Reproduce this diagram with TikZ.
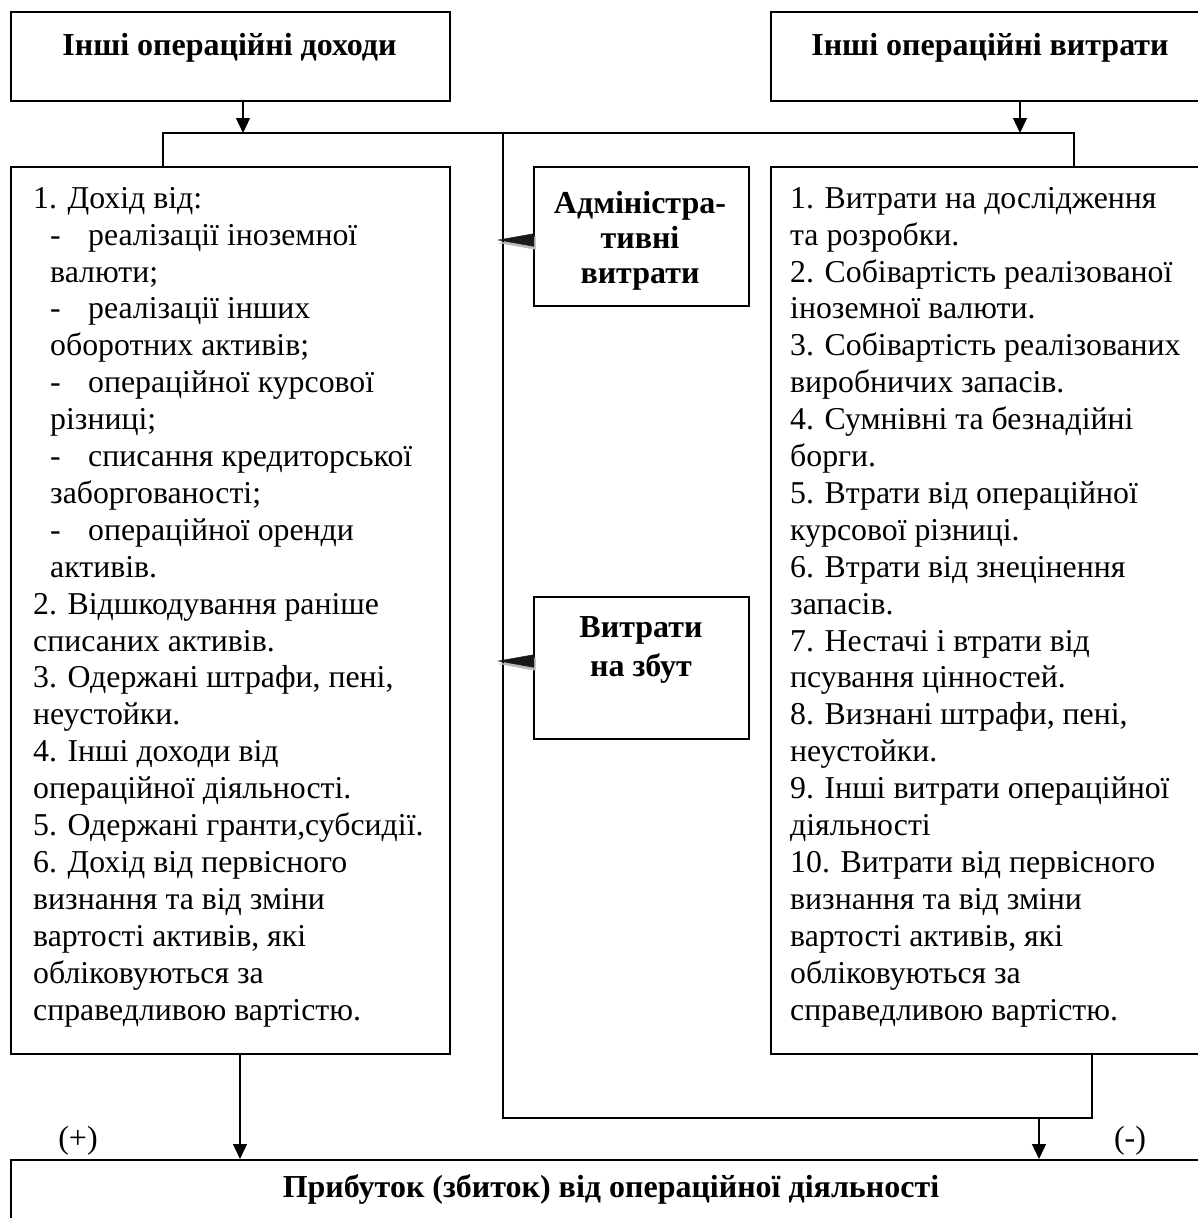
\documentclass[tikz,border=0pt]{standalone}
\usepackage{fontspec}
\setmainfont{Liberation Serif}
\usetikzlibrary{arrows.meta}
\begin{document}
\begin{tikzpicture}[x=1pt,y=-1pt,
  frame/.style={draw, line width=1.6pt, inner sep=0pt, anchor=north west},
  conn/.style={line width=1.3pt},
  arr/.style={conn, -{Triangle[length=15pt,width=14pt]}},
  sidearr/.style={line width=0.5pt, -{Triangle[length=37pt,width=13pt]}},
  body/.style={font=\fontsize{31.8}{36.9}\selectfont, align=left, inner sep=0pt, anchor=north west},
  title/.style={font=\fontsize{32}{34}\selectfont\bfseries, align=center, inner sep=0pt, anchor=base},
  mtitle/.style={title, anchor=north},
  sign/.style={font=\fontsize{32}{36}\selectfont, inner sep=0pt, anchor=base},
]
\useasboundingbox (0,0) rectangle (1198,1218);

% frames
\node[frame, minimum width=439pt, minimum height=89pt] (tl) at (10,11) {};
\node[frame, minimum width=435pt, minimum height=89pt] (tr) at (770,11) {};
\node[frame, minimum width=439pt, minimum height=887pt] (L) at (10,166) {};
\node[frame, minimum width=435pt, minimum height=887pt] (R) at (770,166) {};
\node[frame, minimum width=215pt, minimum height=139pt] (adm) at (533,166) {};
\node[frame, minimum width=215pt, minimum height=142pt] (sal) at (533,596) {};
\node[frame, minimum width=1195pt, minimum height=70pt] (bot) at (10,1159) {};

% texts
\node[title] (tlT) at (229.5,55) {Інші операційні доходи};
\node[title] (trT) at (990,55) {Інші операційні витрати};
\node[mtitle, font=\fontsize{32}{35}\selectfont\bfseries] (admT) at (640,188) {\rule{0pt}{25pt}Адміністра-\\тивні\\витрати};
\node[mtitle, font=\fontsize{32}{39}\selectfont\bfseries] (salT) at (641,612) {\rule{0pt}{25pt}Витрати\\на збут};
\node[title] (botT) at (611,1197) {Прибуток (збиток) від операційної діяльності};

\node[body] (LT) at (33,183) {\rule{0pt}{25pt}1. Дохід від:\\
\hspace*{17pt}\makebox[38pt][l]{-}реалізації іноземної\\
\hspace*{17pt}валюти;\\
\hspace*{17pt}\makebox[38pt][l]{-}реалізації інших\\
\hspace*{17pt}оборотних активів;\\
\hspace*{17pt}\makebox[38pt][l]{-}операційної курсової\\
\hspace*{17pt}різниці;\\
\hspace*{17pt}\makebox[38pt][l]{-}списання кредиторської\\
\hspace*{17pt}заборгованості;\\
\hspace*{17pt}\makebox[38pt][l]{-}операційної оренди\\
\hspace*{17pt}активів.\\
2. Відшкодування раніше\\
списаних активів.\\
3. Одержані штрафи, пені,\\
неустойки.\\
4. Інші доходи від\\
операційної діяльності.\\
5. Одержані гранти,субсидії.\\
6. Дохід від первісного\\
визнання та від зміни\\
вартості активів, які\\
обліковуються за\\
справедливою вартістю.};

\node[body] (RT) at (790,183) {\rule{0pt}{25pt}1. Витрати на дослідження\\
та розробки.\\
2. Собівартість реалізованої\\
іноземної валюти.\\
3. Собівартість реалізованих\\
виробничих запасів.\\
4. Сумнівні та безнадійні\\
борги.\\
5. Втрати від операційної\\
курсової різниці.\\
6. Втрати від знецінення\\
запасів.\\
7. Нестачі і втрати від\\
псування цінностей.\\
8. Визнані штрафи, пені,\\
неустойки.\\
9. Інші витрати операційної\\
діяльності\\
10. Витрати від первісного\\
визнання та від зміни\\
вартості активів, які\\
обліковуються за\\
справедливою вартістю.};

\node[sign] (plus) at (78,1148) {(+)};
\node[sign] (minus) at (1130,1148) {(-)};

% coordinates
\coordinate (j1) at (243,133);
\coordinate (j2) at (1020,133);
\coordinate (busL) at (163,133);
\coordinate (busR) at (1074,133);
\coordinate (mid) at (503,133);
\coordinate (midB) at (503,1118);
\coordinate (rB) at (1092,1118);
\coordinate (j3) at (1039,1118);
\coordinate (lx) at (240,1053);
\coordinate (tipA) at (497,240);
\coordinate (tipS) at (497,661);

% connectors
\draw[arr] (j1 |- tl.south) -- (j1);
\draw[arr] (j2 |- tr.south) -- (j2);
\draw[conn] (busL |- L.north) -- (busL) -- (busR) -- (busR |- R.north);
\draw[conn] (mid) -- (midB) -- (rB) -- (rB |- R.south);
\draw[arr] (lx |- L.south) -- (lx |- bot.north);
\draw[arr] (j3) -- (j3 |- bot.north);

% side arrows with shadow
\draw[sidearr, gray!55, transform canvas={shift={(1.5pt,-3pt)}}] (tipA -| adm.west) -- (tipA);
\draw[sidearr, black!90] (tipA -| adm.west) -- (tipA);
\draw[sidearr, gray!55, transform canvas={shift={(1.5pt,-3pt)}}] (tipS -| sal.west) -- (tipS);
\draw[sidearr, black!90] (tipS -| sal.west) -- (tipS);
\end{tikzpicture}
\end{document}
